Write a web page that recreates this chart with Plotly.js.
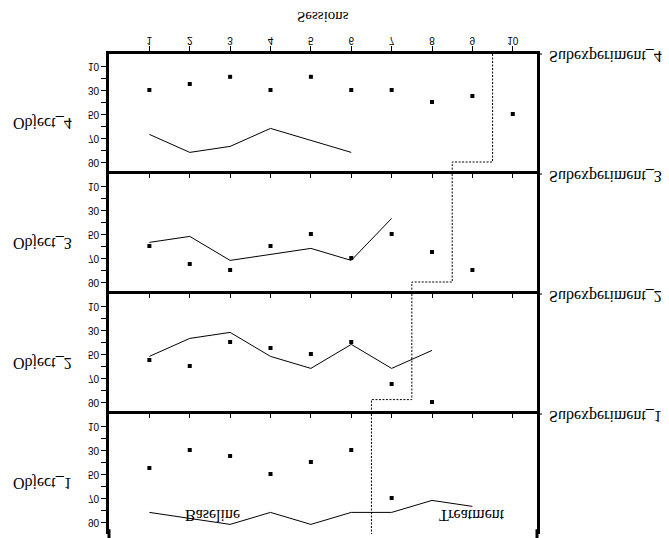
<!DOCTYPE html>
<html>
<head>
<meta charset="utf-8">
<script src="https://cdn.plot.ly/plotly-3.0.1.min.js"></script>
<style>
  html, body { margin: 0; padding: 0; background: #ffffff; }
  #chart { width: 669px; height: 538px; transform: scaleY(-1); transform-origin: 50% 50%; }
</style>
</head>
<body>
<div id="chart"></div>
<script>
// ---- data ----
const objectNames = ['Object_1', 'Object_2', 'Object_3', 'Object_4'];
const subexperimentNames = ['Subexperiment_1', 'Subexperiment_2', 'Subexperiment_3', 'Subexperiment_4'];
const sessionTicks = [1, 2, 3, 4, 5, 6, 7, 8, 9, 10];
const yTickVals = [10, 20, 30, 40, 50, 60, 70, 80, 90];
const yTickText = ['10', '', '30', '', '50', '', '70', '', '90'];

const obj1DotSessions = [1, 2, 3, 4, 5, 6, 7];
const obj1Dots = [45, 30, 35, 50, 40, 30, 70];
const obj1LineSessions = [1, 2, 3, 4, 5, 6, 7, 8, 9];
const obj1Line = [82, 87, 92, 82, 92, 82, 82, 72, 77];

const obj2DotSessions = [1, 2, 3, 4, 5, 6, 7, 8];
const obj2Dots = [55, 60, 40, 45, 50, 40, 75, 90];
const obj2LineSessions = [1, 2, 3, 4, 5, 6, 7, 8];
const obj2Line = [52, 37, 32, 52, 62, 42, 62, 47];

const obj3DotSessions = [1, 2, 3, 4, 5, 6, 7, 8, 9];
const obj3Dots = [60, 75, 80, 60, 50, 70, 50, 65, 80];
const obj3LineSessions = [1, 2, 3, 4, 5, 6, 7];
const obj3Line = [57, 52, 72, 67, 62, 72, 37];

const obj4DotSessions = [1, 2, 3, 4, 5, 6, 7, 8, 9, 10];
const obj4Dots = [30, 25, 19, 30, 19, 30, 30, 40, 35, 50];
const obj4LineSessions = [1, 2, 3, 4, 5, 6];
const obj4Line = [67, 82, 77, 62, 72, 82];

// phase-change step line: per panel, x where it enters, step level, x where it leaves
const phaseEnterX = [6.5, 7.5, 8.5, 9.5];
const phaseStepY = [100, 88, 90, 90];
const phaseExitX = [6.5, 6.5, 7.5, 8.5];
const phaseTop = 0, phaseBottom = 100;

const labelBaseline = 'Baseline';
const labelTreatment = 'Treatment';
const labelSessions = 'Sessions';

// ---- build ----
const dotSess = [obj1DotSessions, obj2DotSessions, obj3DotSessions, obj4DotSessions];
const dots = [obj1Dots, obj2Dots, obj3Dots, obj4Dots];
const lineSess = [obj1LineSessions, obj2LineSessions, obj3LineSessions, obj4LineSessions];
const lines = [obj1Line, obj2Line, obj3Line, obj4Line];

const axSuffix = ['', '2', '3', '4'];
const domains = [[0.75, 1.0], [0.5, 0.75], [0.25, 0.5], [0.0, 0.25]];

const traces = [];
for (let i = 0; i < 4; i++) {
  const xa = 'x' + axSuffix[i], ya = 'y' + axSuffix[i];
  traces.push({
    type: 'scatter', mode: 'lines', x: lineSess[i], y: lines[i],
    xaxis: xa, yaxis: ya, line: { color: '#000', width: 1 }, hoverinfo: 'skip'
  });
  traces.push({
    type: 'scatter', mode: 'markers', x: dotSess[i], y: dots[i],
    xaxis: xa, yaxis: ya, marker: { symbol: 'square', size: 4, color: '#000' }, hoverinfo: 'skip'
  });
  traces.push({
    type: 'scatter', mode: 'lines',
    x: [phaseEnterX[i], phaseEnterX[i], phaseExitX[i], phaseExitX[i]],
    y: [phaseTop, phaseStepY[i], phaseStepY[i], phaseBottom],
    xaxis: xa, yaxis: ya, line: { color: '#000', width: 1, dash: '2px,1.5px' }, hoverinfo: 'skip'
  });
}

const serif = 'Liberation Serif, Times New Roman, serif';
const sans = 'Liberation Sans, Arial, sans-serif';

const layout = {
  width: 669, height: 538,
  margin: { l: 109, r: 132, t: 4, b: 54 },
  paper_bgcolor: '#ffffff', plot_bgcolor: '#ffffff',
  showlegend: false,
  annotations: [],
  shapes: [],
  font: { family: sans, color: '#000' }
};

for (let i = 0; i < 4; i++) {
  const last = (i === 3);
  layout['xaxis' + axSuffix[i]] = {
    anchor: 'y' + axSuffix[i], domain: [0, 1], range: [0, 10.6],
    showline: true, linewidth: 3, linecolor: '#000', mirror: false,
    showgrid: false, zeroline: false,
    tickmode: 'array', tickvals: sessionTicks, ticktext: sessionTicks.map(String),
    ticks: last ? 'outside' : 'inside', ticklen: last ? 5 : 4, tickwidth: 1, tickcolor: '#000',
    showticklabels: last, ticklabelstandoff: last ? -3 : 0,
    tickfont: { family: sans, size: 10, color: '#000' }
  };
  layout['yaxis' + axSuffix[i]] = {
    anchor: 'x' + axSuffix[i], domain: domains[i], range: [0, 100],
    showline: true, linewidth: 3, linecolor: '#000', mirror: true,
    showgrid: false, zeroline: false,
    tickmode: 'array', tickvals: yTickVals, ticktext: yTickText,
    ticks: 'outside', ticklen: 5, tickwidth: 1, tickcolor: '#000',
    tickfont: { family: sans, size: 10, color: '#000' }
  };
  const mid = (domains[i][0] + domains[i][1]) / 2;
  layout.annotations.push({
    xref: 'paper', yref: 'paper', x: -0.155, y: mid + 0.018, xanchor: 'center', yanchor: 'middle',
    text: objectNames[i], showarrow: false, font: { family: serif, size: 16, color: '#000' }
  });
  layout.annotations.push({
    xref: 'paper', yref: 'paper', x: 1.024, y: domains[i][0] + 0.004, xanchor: 'left', yanchor: 'middle',
    text: subexperimentNames[i], showarrow: false, font: { family: serif, size: 16, color: '#000' }
  });
  // small outward tick on the right frame at each panel boundary
  layout.shapes.push({
    type: 'line', xref: 'paper', yref: 'paper', x0: 1, x1: 1.012,
    y0: domains[i][0], y1: domains[i][0], line: { color: '#000', width: 1 }
  });
}

// frame lines run on to the edge of the picture
layout.shapes.push({ type: 'line', xref: 'paper', yref: 'paper', x0: 0, x1: 0, y0: 0.99, y1: 1.02, line: { color: '#000', width: 3 } });
layout.shapes.push({ type: 'line', xref: 'paper', yref: 'paper', x0: 1, x1: 1, y0: 0.99, y1: 1.02, line: { color: '#000', width: 3 } });

layout.annotations.push({
  xref: 'x', yref: 'y', x: 2.57, y: 85, xanchor: 'center', yanchor: 'middle',
  text: labelBaseline, showarrow: false, font: { family: serif, size: 16, color: '#000' }
});
layout.annotations.push({
  xref: 'x', yref: 'y', x: 8.98, y: 85, xanchor: 'center', yanchor: 'middle',
  text: labelTreatment, showarrow: false, font: { family: serif, size: 16, color: '#000' }
});
layout.annotations.push({
  xref: 'paper', yref: 'paper', x: 0.5, y: -0.078, xanchor: 'center', yanchor: 'middle',
  text: labelSessions, showarrow: false, font: { family: serif, size: 15, color: '#000' }
});

Plotly.newPlot('chart', traces, layout, { staticPlot: true, displayModeBar: false });
</script>
</body>
</html>
